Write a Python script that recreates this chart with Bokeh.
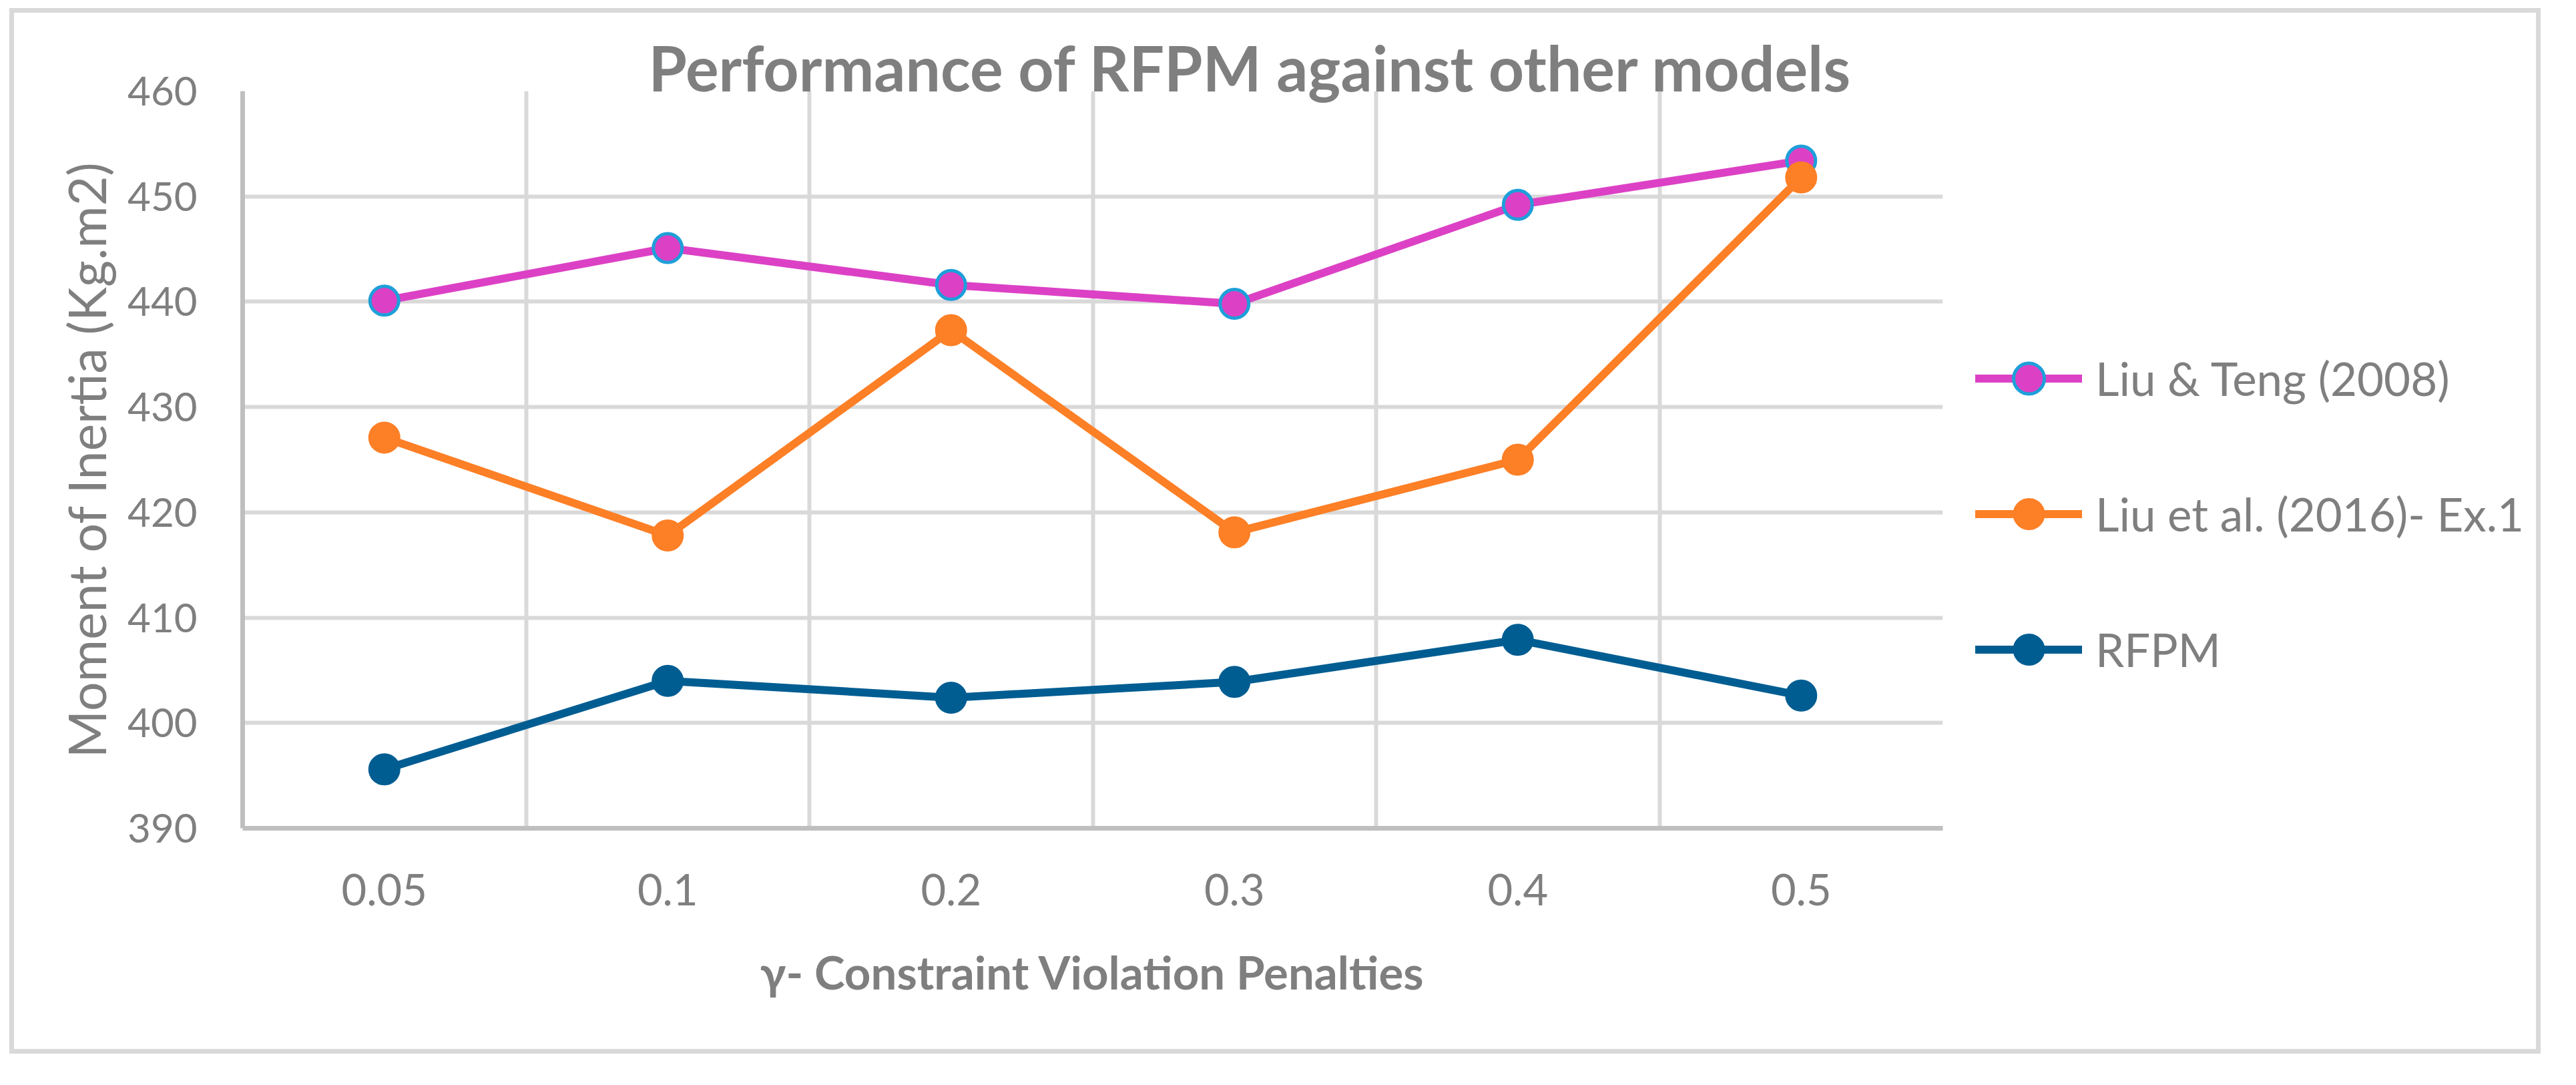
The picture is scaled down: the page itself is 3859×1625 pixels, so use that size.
from bokeh.plotting import figure
from bokeh.models import FixedTicker, Legend, LegendItem, Range1d, Title
from bokeh.layouts import row
from bokeh.embed import file_html
from bokeh.resources import INLINE

# ---- data ----
categories = ["0.05", "0.1", "0.2", "0.3", "0.4", "0.5"]
liu_teng_2008 = [440.1, 445.1, 441.6, 439.8, 449.2, 453.4]
liu_2016_ex1 = [427.1, 417.8, 437.3, 418.1, 425.0, 451.8]
rfpm = [395.6, 404.0, 402.4, 403.9, 407.9, 402.6]
y_ticks = [390, 400, 410, 420, 430, 440, 450, 460]
series_names = ["Liu & Teng (2008)", "Liu et al. (2016)- Ex.1", "RFPM"]
title_text = "Performance of RFPM against other models"
x_title = "\u03b3- Constraint Violation Penalties"
y_title = "Moment of Inertia (Kg.m2)"

FONT = "Lato"
GRAY = "#7f7f7f"
GRID = "#d9d9d9"
AXIS = "#bfbfbf"

n = len(categories)
xs = [i + 0.5 for i in range(n)]
series_values = [liu_teng_2008, liu_2016_ex1, rfpm]
styles = [
    dict(color="#dc41c5", outline="#1e9fd9", ow=5, size=43),
    dict(color="#fd7f26", outline="#fd7f26", ow=2, size=46),
    dict(color="#005d92", outline="#005d92", ow=2, size=46),
]

# ---- main chart ----
p = figure(width=2899, height=1552, output_backend="svg", toolbar_location=None,
           x_range=Range1d(0, n), y_range=Range1d(y_ticks[0], y_ticks[-1]),
           min_border_left=342, min_border_right=10, min_border_top=117,
           min_border_bottom=331)
p.outline_line_color = None
p.background_fill_color = "white"
p.border_fill_color = "white"

p.title = Title(text=title_text, align="left", offset=608, standoff=-40,
                text_font=FONT, text_font_size="93px", text_font_style="bold",
                text_color=GRAY)

p.xgrid.ticker = FixedTicker(ticks=list(range(1, n + 1)))
p.xgrid.grid_line_color = GRID
p.xgrid.grid_line_width = 6
p.ygrid.ticker = FixedTicker(ticks=y_ticks)
p.ygrid.grid_line_color = GRID
p.ygrid.grid_line_width = 6

p.xaxis.ticker = FixedTicker(ticks=xs)
p.xaxis.major_label_overrides = {xv: c for xv, c in zip(xs, categories)}
p.yaxis.ticker = FixedTicker(ticks=y_ticks)
for ax in (p.xaxis[0], p.yaxis[0]):
    ax.axis_line_color = AXIS
    ax.axis_line_width = 7
    ax.major_tick_line_color = None
    ax.minor_tick_line_color = None
    ax.major_label_text_color = GRAY
    ax.major_label_text_font = FONT
    ax.axis_label_text_color = GRAY
    ax.axis_label_text_font = FONT
p.xaxis.major_label_text_font_size = "65px"
p.yaxis.major_label_text_font_size = "60px"
p.xaxis.major_label_standoff = 62
p.yaxis.major_label_standoff = 62
p.xaxis.axis_label = x_title
p.xaxis.axis_label_text_font_size = "69px"
p.xaxis.axis_label_text_font_style = "bold"
p.xaxis.axis_label_standoff = 55
p.yaxis.axis_label = y_title
p.yaxis.axis_label_text_font_size = "77px"
p.yaxis.axis_label_text_font_style = "normal"
p.yaxis.axis_label_standoff = 13

for vals, st in zip(series_values, styles):
    p.line(xs, vals, line_color=st["color"], line_width=12,
           line_join="round", line_cap="round")
    p.scatter(xs, vals, size=st["size"], fill_color=st["color"],
              line_color=st["outline"], line_width=st["ow"])

# ---- legend panel (same series, drawn only as legend samples) ----
lg = figure(width=879, height=1552, output_backend="svg", toolbar_location=None,
            x_range=Range1d(100, 101), y_range=Range1d(0, 1),
            x_axis_location=None, y_axis_location=None,
            min_border_left=0, min_border_right=0, min_border_top=0, min_border_bottom=0)
lg.outline_line_color = None
lg.grid.visible = False
lg.background_fill_color = "white"
lg.border_fill_color = "white"

items = []
for name, vals, st in zip(series_names, series_values, styles):
    ln = lg.line(xs, vals, line_color=st["color"], line_width=12,
                 line_join="round", line_cap="round")
    sc = lg.scatter(xs, vals, size=st["size"], fill_color=st["color"],
                    line_color=st["outline"], line_width=st["ow"])
    items.append(LegendItem(label=name, renderers=[ln, sc]))

legend = Legend(items=items, location=(39, 210), orientation="vertical",
                glyph_width=160, glyph_height=115, spacing=88, label_standoff=20,
                padding=0, margin=0, border_line_color=None,
                background_fill_alpha=0, label_text_font=FONT,
                label_text_font_size="69px", label_text_color=GRAY)
lg.add_layout(legend, "center")

page = row(p, lg, styles={"border": "7px solid #d9d9d9", "box-sizing": "content-box",
                          "margin-left": "14px", "margin-top": "12px",
                          "background-color": "white"})

open("out.html", "w").write(file_html(page, INLINE))
